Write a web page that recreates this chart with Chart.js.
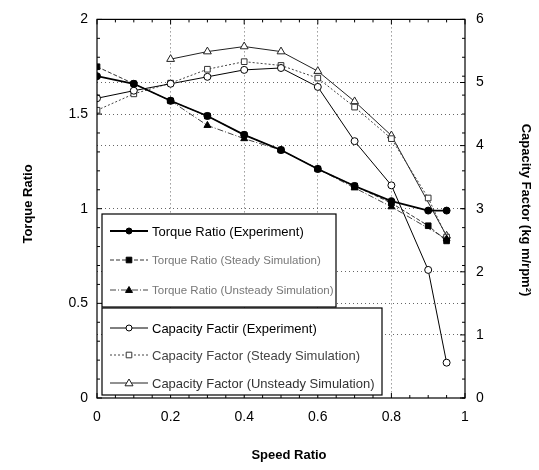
<!DOCTYPE html>
<html><head><meta charset="utf-8">
<script src="https://cdn.jsdelivr.net/npm/chart.js@4"></script>
<style>html,body{margin:0;padding:0;background:#fff}#wrap{width:539px;height:470px}</style>
</head><body><div id="wrap"><canvas id="c" width="539" height="470"></canvas></div>
<script>
const speedRatio = [0, 0.1, 0.2, 0.3, 0.4, 0.5, 0.6, 0.7, 0.8, 0.9, 0.95];
const torqueExp = [1.70, 1.66, 1.57, 1.49, 1.39, 1.31, 1.21, 1.12, 1.04, 0.99, 0.99];
const torqueSteady = [1.75, 1.66, 1.57, 1.49, 1.39, 1.31, 1.21, 1.12, 1.03, 0.91, 0.83];
const torqueUnsteady = [null, null, 1.57, 1.44, 1.37, 1.31, 1.21, 1.11, 1.01, null, 0.84];
const capExp = [4.75, 4.87, 4.98, 5.09, 5.20, 5.23, 4.93, 4.07, 3.37, 2.03, 0.56];
const capSteady = [4.56, 4.82, 4.99, 5.21, 5.33, 5.27, 5.07, 4.61, 4.11, 3.17, 2.55];
const capUnsteady = [null, null, 5.37, 5.49, 5.57, 5.49, 5.18, 4.70, 4.16, null, 2.57];

const seriesNames = [
  'Torque Ratio (Experiment)',
  'Torque Ratio (Steady Simulation)',
  'Torque Ratio (Unsteady Simulation)',
  'Capacity Factir (Experiment)',
  'Capacity Factor (Steady Simulation)',
  'Capacity Factor (Unsteady Simulation)'
];
const xTicks = [0, 0.2, 0.4, 0.6, 0.8, 1];
const leftTicks = [0, 0.5, 1, 1.5, 2];
const rightTicks = [0, 1, 2, 3, 4, 5, 6];
const xTitle = 'Speed Ratio';
const leftTitle = 'Torque Ratio';
const rightTitle = 'Capacity Factor (kg m/rpm\u00B2)';

const FONT = '"Liberation Sans", Arial, sans-serif';
const pts = arr => speedRatio.map((x, i) => ({x: x, y: arr[i]}));

const datasets = [
  {label: seriesNames[0], data: pts(torqueExp), yAxisID: 'y', borderColor: '#000', backgroundColor: '#000', borderWidth: 1.8, pointStyle: 'circle', pointRadius: 3.5, pointBorderWidth: 1, legendColor: '#000', legendSize: 13},
  {label: seriesNames[1], data: pts(torqueSteady), yAxisID: 'y', borderColor: '#333', backgroundColor: '#000', borderWidth: 1, borderDash: [4, 2], pointStyle: 'rect', pointRadius: 4, pointBorderWidth: 1, pointBorderColor: '#000', legendColor: '#777', legendSize: 11.5},
  {label: seriesNames[2], data: pts(torqueUnsteady), yAxisID: 'y', borderColor: '#444', backgroundColor: '#000', borderWidth: 1, borderDash: [6, 2, 1, 2], pointStyle: 'triangle', pointRadius: 4, pointBorderWidth: 1, pointBorderColor: '#000', spanGaps: true, legendColor: '#777', legendSize: 11.5},
  {label: seriesNames[3], data: pts(capExp), yAxisID: 'y2', borderColor: '#000', backgroundColor: '#fff', borderWidth: 1, pointStyle: 'circle', pointRadius: 3.5, pointBorderWidth: 1, pointBorderColor: '#000', legendColor: '#000', legendSize: 13},
  {label: seriesNames[4], data: pts(capSteady), yAxisID: 'y2', borderColor: '#444', backgroundColor: '#fff', borderWidth: 1, borderDash: [2, 2], pointStyle: 'rect', pointRadius: 4, pointBorderWidth: 1, pointBorderColor: '#333', legendColor: '#444', legendSize: 13},
  {label: seriesNames[5], data: pts(capUnsteady), yAxisID: 'y2', borderColor: '#222', backgroundColor: '#fff', borderWidth: 1, pointStyle: 'triangle', pointRadius: 4.5, pointBorderWidth: 1, pointBorderColor: '#222', spanGaps: true, legendColor: '#333', legendSize: 13}
];
datasets.forEach(d => { d.fill = false; d.tension = 0; d.pointBackgroundColor = d.backgroundColor; if (!d.pointBorderColor) d.pointBorderColor = '#000'; });

const gridColor = (min, max) => ctx => (ctx.tick && (Math.abs(ctx.tick.value - min) < 1e-9 || Math.abs(ctx.tick.value - max) < 1e-9)) ? 'rgba(0,0,0,0)' : '#666';

const framePlugin = {
  id: 'frame',
  afterDatasetsDraw(chart) {
    const {ctx, chartArea: a, scales} = chart;
    ctx.save();
    ctx.strokeStyle = '#000'; ctx.lineWidth = 1.2; ctx.setLineDash([]);
    ctx.strokeRect(a.left, a.top, a.right - a.left, a.bottom - a.top);
    ctx.lineWidth = 1;
    ctx.beginPath();
    for (let i = 0; i <= 20; i++) {
      const v = i * 0.05; const px = scales.x.getPixelForValue(v);
      const len = (i % 4 === 0) ? 5 : 3;
      ctx.moveTo(px, a.bottom); ctx.lineTo(px, a.bottom - len);
      ctx.moveTo(px, a.top); ctx.lineTo(px, a.top + len);
    }
    for (let i = 0; i <= 20; i++) {
      const v = i * 0.1; const py = scales.y.getPixelForValue(v);
      const len = (i % 5 === 0) ? 5 : 3;
      ctx.moveTo(a.left, py); ctx.lineTo(a.left + len, py);
      ctx.moveTo(a.right, py); ctx.lineTo(a.right - 3, py);
    }
    for (let i = 0; i <= 6; i++) {
      const py = scales.y2.getPixelForValue(i);
      ctx.moveTo(a.right, py); ctx.lineTo(a.right - 5, py);
    }
    ctx.stroke();

    const boxes = [
      {x: 102, y: 214, w: 234, h: 93, rows: [0, 1, 2], ys: [231, 260, 290]},
      {x: 102, y: 308, w: 280, h: 87, rows: [3, 4, 5], ys: [328, 355, 383]}
    ];
    ctx.textBaseline = 'middle';
    boxes.forEach(b => {
      ctx.fillStyle = '#fff'; ctx.fillRect(b.x, b.y, b.w, b.h);
      ctx.strokeStyle = '#000'; ctx.lineWidth = 1.2; ctx.setLineDash([]);
      ctx.strokeRect(b.x, b.y, b.w, b.h);
      b.rows.forEach((di, k) => {
        const d = chart.data.datasets[di]; const y = b.ys[k];
        ctx.strokeStyle = d.borderColor; ctx.lineWidth = d.borderWidth;
        ctx.setLineDash(d.borderDash || []);
        ctx.beginPath(); ctx.moveTo(110, y); ctx.lineTo(148, y); ctx.stroke();
        ctx.setLineDash([]);
        ctx.fillStyle = d.backgroundColor; ctx.strokeStyle = d.pointBorderColor; ctx.lineWidth = 1;
        ctx.beginPath();
        const r = d.pointRadius - 0.5;
        if (d.pointStyle === 'circle') { ctx.arc(129, y, r, 0, Math.PI * 2); }
        else if (d.pointStyle === 'rect') { ctx.rect(129 - r * 0.8, y - r * 0.8, r * 1.6, r * 1.6); }
        else { ctx.moveTo(129, y - r); ctx.lineTo(129 + r, y + r * 0.7); ctx.lineTo(129 - r, y + r * 0.7); ctx.closePath(); }
        ctx.fill(); ctx.stroke();
        ctx.fillStyle = d.legendColor;
        ctx.font = d.legendSize + 'px ' + FONT;
        ctx.fillText(d.label, 152, y + 1);
      });
    });

    ctx.fillStyle = '#000';
    ctx.font = 'bold 13px ' + FONT;
    ctx.textAlign = 'center'; ctx.textBaseline = 'middle';
    ctx.fillText(xTitle, 289, 455);
    ctx.save(); ctx.translate(28, 204); ctx.rotate(-Math.PI / 2); ctx.fillText(leftTitle, 0, 0); ctx.restore();
    ctx.save(); ctx.translate(526, 210); ctx.rotate(Math.PI / 2); ctx.fillText(rightTitle, 0, 0); ctx.restore();
    ctx.restore();
  }
};

new Chart(document.getElementById('c'), {
  type: 'line',
  data: {datasets: datasets},
  plugins: [framePlugin],
  options: {
    responsive: false,
    animation: false,
    layout: {padding: {top: 10, left: 0, right: 0, bottom: 0}},
    plugins: {legend: {display: false}, tooltip: {enabled: false}},
    scales: {
      x: {
        type: 'linear', position: 'bottom', min: 0, max: 1,
        afterFit: s => { s.height = 72; },
        afterBuildTicks: s => { s.ticks = xTicks.map(v => ({value: v})); },
        ticks: {font: {size: 14, family: FONT}, color: '#000', padding: 11, maxRotation: 0,
          callback: v => (v === 0 || v === 1) ? String(v) : v.toFixed(1)},
        grid: {color: gridColor(0, 1), lineWidth: 1, drawTicks: false},
        border: {display: false, dash: [1, 3]}
      },
      y: {
        type: 'linear', position: 'left', min: 0, max: 2,
        afterFit: s => { s.width = 97; },
        afterBuildTicks: s => { s.ticks = leftTicks.map(v => ({value: v})); },
        ticks: {font: {size: 14, family: FONT}, color: '#000', padding: 9, callback: v => String(v)},
        grid: {color: gridColor(0, 2), lineWidth: 1, drawTicks: false},
        border: {display: false, dash: [1, 3]}
      },
      y2: {
        type: 'linear', position: 'right', min: 0, max: 6,
        afterFit: s => { s.width = 74; },
        afterBuildTicks: s => { s.ticks = rightTicks.map(v => ({value: v})); },
        ticks: {font: {size: 14, family: FONT}, color: '#000', padding: 11, callback: v => String(v)},
        grid: {color: gridColor(0, 6), lineWidth: 1, drawTicks: false, drawOnChartArea: true},
        border: {display: false, dash: [1, 3]}
      }
    }
  }
});
</script></body></html>
